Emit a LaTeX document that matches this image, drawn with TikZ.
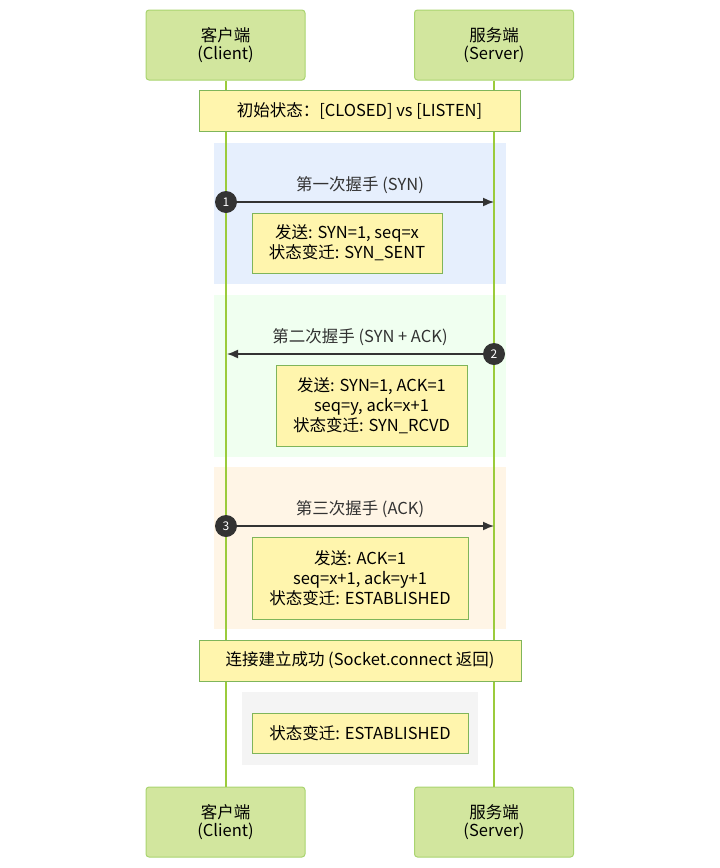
\documentclass[tikz,border=0pt]{standalone}
\usepackage{fontspec}
\setmainfont{Noto Sans CJK SC}
\usetikzlibrary{arrows.meta}

\definecolor{actfill}{HTML}{D2E69E}
\definecolor{actline}{HTML}{A9D46F}
\definecolor{life}{HTML}{9BCB3C}
\definecolor{notefill}{HTML}{FFF5AD}
\definecolor{noteline}{HTML}{7FB55A}
\definecolor{ink}{HTML}{333333}
\definecolor{bluebg}{HTML}{E6EFFD}
\definecolor{greenbg}{HTML}{F0FFF0}
\definecolor{peachbg}{HTML}{FFF5E6}
\definecolor{graybg}{HTML}{F4F4F4}

\tikzstyle{act}=[rectangle,fill=actfill,draw=actline,line width=1pt,rounded corners=3pt,minimum height=70pt,minimum width=159pt,align=center,font=\fontsize{16.5}{18}\selectfont]
\tikzstyle{note}=[rectangle,fill=notefill,draw=noteline,line width=1pt,align=center,text=black,font=\fontsize{16.5}{20}\selectfont]
\tikzstyle{num}=[circle,fill=ink,text=white,inner sep=0pt,minimum size=22pt,font=\fontsize{12}{12}\selectfont]
\tikzstyle{lbl}=[text=ink,font=\fontsize{16.5}{18}\selectfont]

\begin{document}
\begin{tikzpicture}[x=1pt,y=-1pt]
\useasboundingbox (0,0) rectangle (720,868);

%Background boxes of the three steps
\fill [bluebg] (214,143) rectangle (506,284);
\fill [greenbg] (214,295) rectangle (506,457);
\fill [peachbg] (214,467) rectangle (506,629);
\fill [graybg] (242,692) rectangle (478,765);

%Actors, top and bottom
\node [act] at (225.5,45) (cl) {客户端\\(Client)};
\node [act] at (494,45) (sv) {服务端\\(Server)};
\node [act] at (225.5,822) (clb) {客户端\\(Client)};
\node [act] at (494,822) (svb) {服务端\\(Server)};

%Lifelines
\draw [life,line width=2pt] (cl) -- (clb);
\draw [life,line width=2pt] (sv) -- (svb);

%Notes
\node [note,minimum width=321pt,minimum height=41pt] at (359.5,110.5) (init) {初始状态：[CLOSED] vs [LISTEN]};
\node [note,minimum width=190pt,minimum height=60pt] at (347,243) (n1) {发送: SYN=1, seq=x\\状态变迁: SYN\_SENT};
\node [note,minimum width=191pt,minimum height=81pt] at (371.5,405.5) (n2) {发送: SYN=1, ACK=1\\seq=y, ack=x+1\\状态变迁: SYN\_RCVD};
\node [note,minimum width=216pt,minimum height=82pt] at (360,578) (n3) {发送: ACK=1\\seq=x+1, ack=y+1\\状态变迁: ESTABLISHED};
\node [note,minimum width=322pt,minimum height=41pt] at (360,660.5) (ok) {连接建立成功 (Socket.connect 返回)};
\node [note,minimum width=216pt,minimum height=40pt] at (360,733) (n4) {状态变迁: ESTABLISHED};

%Messages
\node [lbl] at (360,185) (m1) {第一次握手 (SYN)};
\node [lbl] at (360,337) (m2) {第二次握手 (SYN + ACK)};
\node [lbl] at (360,509) (m3) {第三次握手 (ACK)};

\node [num] at (226,202) (c1) {1};
\node [num] at (494,354) (c2) {2};
\node [num] at (226,526) (c3) {3};

\coordinate (s1) at (494,202);
\coordinate (s2) at (227,354);
\coordinate (s3) at (494,526);

\draw [->,>={Latex[length=11pt,width=9pt]},ink,line width=1.5pt] (c1) -- (s1);
\draw [->,>={Latex[length=11pt,width=9pt]},ink,line width=1.5pt] (c2) -- (s2);
\draw [->,>={Latex[length=11pt,width=9pt]},ink,line width=1.5pt] (c3) -- (s3);

\end{tikzpicture}
\end{document}
